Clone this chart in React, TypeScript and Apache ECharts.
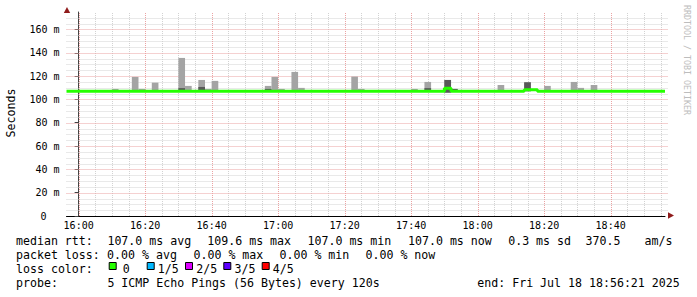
import React, { useEffect, useRef } from "react";
import * as echarts from "echarts";

const FONT = "'DejaVu Sans Mono', monospace";

// x values: minutes after 16:00
const xStart = -3.65; // 15:56:21
const xEnd = 176.35; // 18:56:21
const yMin = 0;
const yMax = 175;

const xTickValues = [0, 20, 40, 60, 80, 100, 120, 140, 160];
const xTickLabels = ["16:00", "16:20", "16:40", "17:00", "17:20", "17:40", "18:00", "18:20", "18:40"];
const yTickValues = [0, 20, 40, 60, 80, 100, 120, 140, 160];
const yTickLabels = ["0", "20 m", "40 m", "60 m", "80 m", "100 m", "120 m", "140 m", "160 m"];

// smoke: 2-minute steps (start minute after 16:00), ping spread in ms
const stepMinutes = 2;
const smokeStart = [10, 16, 18, 22, 30, 32, 36, 38, 40, 56, 58, 60, 64, 66, 82, 84, 100, 104, 110, 112, 126, 134, 140, 148, 150, 154];
const pingMin = [107, 107, 107, 107, 107, 107, 107, 107, 107, 107, 107, 107, 107, 107, 107, 107, 107, 107, 105.8, 107, 107, 107, 107, 107, 107, 107];
const pingLow = [107, 107, 107, 107, 107, 107, 107, 107, 107, 107, 107, 107, 107, 107, 107, 107, 107, 107, 105.8, 107, 107, 107, 107, 107, 107, 107];
const pingHigh = [107, 107, 107, 107, 109.7, 107, 110.7, 107, 107, 109, 107, 107, 107, 107, 107, 107, 107, 109.7, 116.7, 109, 107, 114.7, 107, 107, 107, 107];
const pingMax = [109, 119.3, 109, 114.4, 135.6, 111.6, 116.7, 109, 115.9, 111.6, 119.3, 109, 123.6, 109.9, 119.6, 109, 109, 115, 116.7, 109, 112.4, 114.7, 111.6, 115, 109.9, 112.4];

// median rtt step line (value holds from the given time to the next)
const medianTimes = [xStart, 110, 112, 134, 138, xEnd];
const medianValues = [107, 109.5, 107, 108.2, 107, 107];

const lossLabels = ["0", "1/5", "2/5", "3/5", "4/5"];
const lossColors = ["#26ff00", "#00b8ff", "#dd00ff", "#5e00ff", "#ff0000"];

const stats1 = ["median rtt:", "107.0 ms avg", "109.6 ms max", "107.0 ms min", "107.0 ms now", "0.3 ms sd", "370.5", "am/s"];
const stats2 = ["packet loss:", "0.00 % avg", "0.00 % max", "0.00 % min", "0.00 % now"];
const probeTexts = ["probe:", "5 ICMP Echo Pings (56 Bytes) every 120s", "end: Fri Jul 18 18:56:21 2025"];
const lossTitle = "loss color:";
const yAxisTitle = "Seconds";
const watermark = "RRDTOOL / TOBI OETIKER";

// layout
const stats1X = [16, 107.4, 207.3, 307.5, 408, 508.2, 585.5, 644.5];
const stats2X = [16, 107.1, 193.5, 279.5, 365.5];
const probeX = [16, 107.4, 477.3];
const boxX = [108.7, 146.7, 185, 223.3, 261.7];
const boxLabelX = [122.8, 157.8, 196.2, 234.5, 272.8];
const lineY = [240.6, 254.9, 269, 283.4];

const GRID = { left: 66.5, right: 32, top: 12, bottom: 81 };
const MINOR = "#d2d2d2";
const MAJOR = "#eba3a3";

function buildOption() {
  const xMinor: number[][] = [];
  const xMajor: number[][] = [];
  for (let v = 0; v <= 175; v += 5) {
    if (v % 20 === 0) xMajor.push([v, 0]);
    else xMinor.push([v, 0]);
  }
  const yMinor: number[][] = [];
  const yMajor: number[][] = [];
  for (let v = 5; v <= 170; v += 5) {
    if (v % 20 === 0) yMajor.push([xStart, v]);
    else yMinor.push([xStart, v]);
  }

  const vLine = (color: string) => (params: any, api: any) => {
    const a = api.coord([api.value(0), yMin]);
    const b = api.coord([api.value(0), yMax]);
    const x = Math.round(a[0]) + 0.5;
    return {
      type: "line",
      shape: { x1: x, y1: a[1], x2: x, y2: b[1] },
      style: { stroke: color, lineWidth: 1, lineDash: [1, 1] },
    };
  };
  const hLine = (color: string) => (params: any, api: any) => {
    const a = api.coord([xStart, api.value(1)]);
    const b = api.coord([xEnd, api.value(1)]);
    const y = Math.round(a[1]) + 0.5;
    return {
      type: "line",
      shape: { x1: a[0], y1: y, x2: b[0] + 3, y2: y },
      style: { stroke: color, lineWidth: 1, lineDash: [1, 1] },
    };
  };

  const lightData = smokeStart.map((s, i) => [s, s + stepMinutes, pingMin[i], pingMax[i]]);
  const darkData = smokeStart
    .map((s, i) => [s, s + stepMinutes, pingLow[i], pingHigh[i]])
    .filter((d) => d[3] > d[2]);

  const rectItem = (color: string) => (params: any, api: any) => {
    const p0 = api.coord([api.value(0), api.value(3)]);
    const p1 = api.coord([api.value(1), api.value(2)]);
    return {
      type: "rect",
      shape: { x: p0[0], y: p0[1], width: p1[0] - p0[0], height: p1[1] - p0[1] },
      style: { fill: color },
    };
  };

  const medianData = medianTimes.map((t, i) => [t, medianValues[i]]);

  const textStyle = (text: string, size = 11.6) => ({
    text,
    fill: "#000",
    fontFamily: FONT,
    fontSize: size,
    verticalAlign: "middle",
    align: "left",
  });

  const graphics: any[] = [];
  stats1.forEach((t, i) => graphics.push({ type: "text", x: stats1X[i], y: lineY[0], style: textStyle(t) }));
  stats2.forEach((t, i) => graphics.push({ type: "text", x: stats2X[i], y: lineY[1], style: textStyle(t) }));
  graphics.push({ type: "text", x: 16, y: lineY[2], style: textStyle(lossTitle) });
  lossLabels.forEach((t, i) => {
    graphics.push({
      type: "rect",
      shape: { x: boxX[i] + 0.5, y: 262.5, width: 7, height: 7 },
      style: { fill: lossColors[i], stroke: "#000", lineWidth: 1 },
    });
    graphics.push({ type: "text", x: boxLabelX[i], y: lineY[2], style: textStyle(t) });
  });
  probeTexts.forEach((t, i) => graphics.push({ type: "text", x: probeX[i], y: lineY[3], style: textStyle(t) }));
  graphics.push({
    type: "text",
    x: 11,
    y: 113,
    rotation: Math.PI / 2,
    style: { ...textStyle(yAxisTitle), align: "center" },
  });
  graphics.push({
    type: "text",
    x: 686.5,
    y: 60,
    rotation: -Math.PI / 2,
    style: { ...textStyle(watermark, 8.3), align: "center", fill: "#bdbdbd" },
  });
  // axis arrows
  graphics.push({
    type: "polygon",
    shape: { points: [[67, 7], [63.8, 13], [70.2, 13]] },
    style: { fill: "#901c1c" },
  });
  graphics.push({
    type: "polygon",
    shape: { points: [[674, 215.5], [668, 212.3], [668, 218.7]] },
    style: { fill: "#901c1c" },
  });

  return {
    animation: false,
    backgroundColor: "#ffffff",
    grid: { ...GRID },
    xAxis: {
      type: "value",
      min: xStart,
      max: xEnd,
      axisLine: { show: true, lineStyle: { color: "#000", width: 1 } },
      axisTick: { show: false },
      splitLine: { show: false },
      axisLabel: {
        customValues: xTickValues,
        formatter: (v: number) => {
          const i = xTickValues.indexOf(Math.round(v));
          return i >= 0 ? xTickLabels[i] : "";
        },
        color: "#000",
        fontFamily: FONT,
        fontSize: 10,
        margin: 4,
      },
    },
    yAxis: {
      type: "value",
      min: yMin,
      max: yMax,
      axisLine: { show: true, lineStyle: { color: "#444", width: 1 } },
      axisTick: { show: true, customValues: yTickValues, length: 4, lineStyle: { color: "#444" } },
      splitLine: { show: false },
      axisLabel: {
        customValues: yTickValues,
        formatter: (v: number) => {
          const i = yTickValues.indexOf(Math.round(v));
          if (i < 0) return "";
          return i === 0 ? "{z|" + yTickLabels[i] + "}" : yTickLabels[i];
        },
        rich: { z: { padding: [0, 13, 0, 0], fontFamily: FONT, fontSize: 10, color: "#000" } },
        color: "#000",
        fontFamily: FONT,
        fontSize: 10,
        margin: 7,
      },
    },
    graphic: graphics,
    series: [
      { type: "custom", data: xMinor, renderItem: vLine(MINOR), silent: true, z: 1 },
      { type: "custom", data: yMinor, renderItem: hLine(MINOR), silent: true, z: 1 },
      { type: "custom", data: xMajor, renderItem: vLine(MAJOR), silent: true, z: 1 },
      { type: "custom", data: yMajor, renderItem: hLine(MAJOR), silent: true, z: 1 },
      { type: "custom", data: lightData, renderItem: rectItem("#a4a4a4"), silent: true, z: 2 },
      { type: "custom", data: darkData, renderItem: rectItem("#585858"), silent: true, z: 3 },
      {
        type: "line",
        data: medianData,
        step: "end",
        symbol: "none",
        silent: true,
        z: 4,
        lineStyle: { color: "#26ff00", width: 3 },
      },
    ],
  };
}

export default function App() {
  const ref = useRef<HTMLDivElement>(null);
  useEffect(() => {
    if (!ref.current) return;
    const chart = echarts.init(ref.current, undefined, { renderer: "svg" });
    chart.setOption(buildOption() as any);
    return () => chart.dispose();
  }, []);
  return (
    <div
      ref={ref}
      style={{ position: "fixed", left: 0, top: 0, width: 697, height: 297, background: "#fff" }}
    />
  );
}
